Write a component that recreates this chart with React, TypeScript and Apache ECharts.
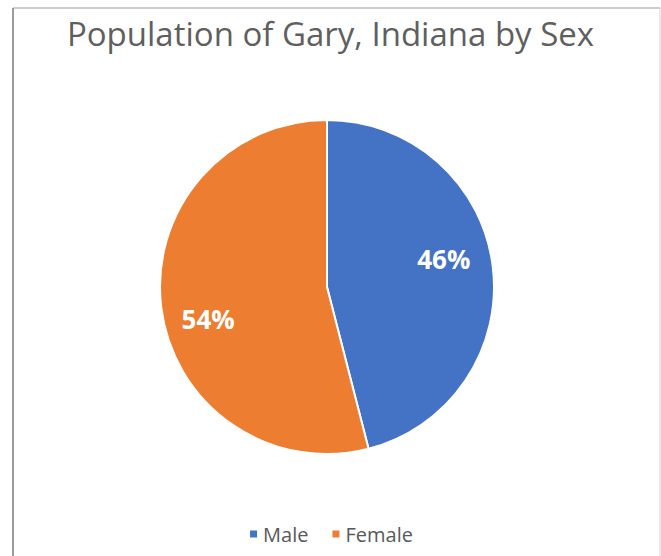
import React, { useEffect, useRef } from "react";
import * as echarts from "echarts";

const titleText = "Population of Gary, Indiana by Sex";
const categories = ["Male", "Female"];
const values = [46, 54];
const colors = ["#4472C4", "#ED7D31"];
const labelOffsets: [number, number][] = [[31, -17], [-33, 21]];

export default function App() {
  const ref = useRef<HTMLDivElement>(null);
  useEffect(() => {
    document.body.style.margin = "0";
    const chart = echarts.init(ref.current!, null, { renderer: "svg" });
    const font = "'Open Sans', 'Noto Sans', sans-serif";
    chart.setOption({
      animation: false,
      backgroundColor: "#ffffff",
      title: {
        text: titleText,
        left: "center",
        top: 12,
        textStyle: { fontFamily: font, fontSize: 33, fontWeight: "normal", color: "#5f5f5f" },
      },
      legend: {
        data: categories,
        top: 519,
        left: "center",
        icon: "rect",
        itemWidth: 9,
        itemHeight: 9,
        itemGap: 22,
        textStyle: { fontFamily: font, fontSize: 20, color: "#595959" },
      },
      graphic: [
        { type: "line", shape: { x1: 13, y1: 8, x2: 660, y2: 8 }, style: { stroke: "#9a9a9a", lineWidth: 1 } },
        { type: "line", shape: { x1: 13, y1: 8, x2: 13, y2: 556 }, style: { stroke: "#7a7a7a", lineWidth: 1.5 } },
        { type: "line", shape: { x1: 660, y1: 8, x2: 660, y2: 556 }, style: { stroke: "#d4d4d4", lineWidth: 1 } },
      ],
      series: [
        {
          type: "pie",
          center: [327, 287],
          radius: 167,
          startAngle: 90,
          clockwise: true,
          itemStyle: { borderColor: "#ffffff", borderWidth: 2 },
          label: {
            show: true,
            position: "inside",
            formatter: "{d}%",
            color: "#ffffff",
            fontFamily: font,
            fontWeight: "bold",
            fontSize: 26,
          },
          labelLine: { show: false },
          emphasis: { disabled: true },
          data: categories.map((name, i) => ({
            name,
            value: values[i],
            itemStyle: { color: colors[i] },
            label: { offset: labelOffsets[i] },
          })),
        },
      ],
    });
    return () => chart.dispose();
  }, []);
  return <div ref={ref} style={{ width: 661, height: 556 }} />;
}
